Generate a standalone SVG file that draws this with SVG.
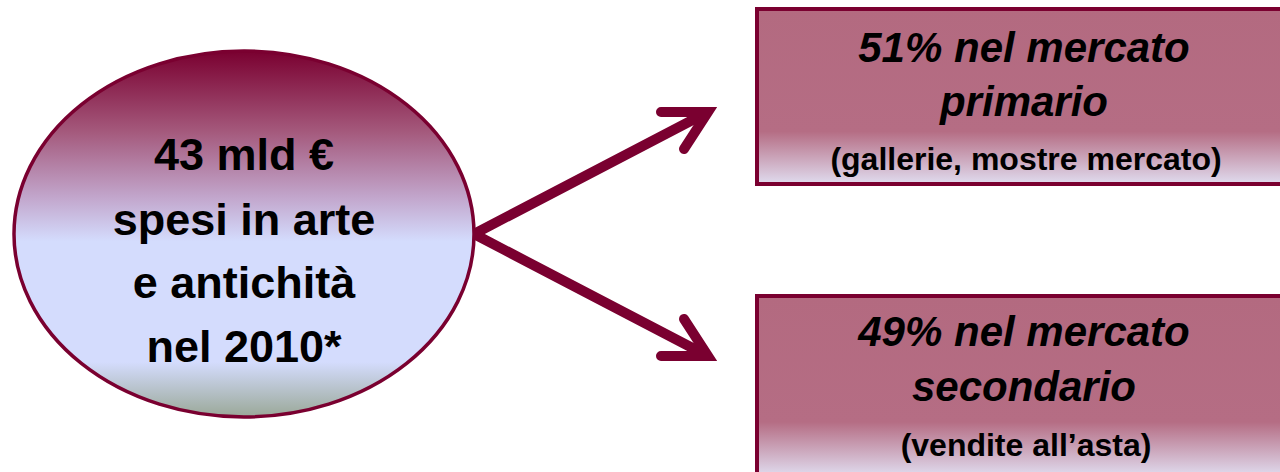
<svg xmlns="http://www.w3.org/2000/svg" width="1280" height="472" viewBox="0 0 1280 472">
<style>
.node-stroke{stroke:#7a0030;}
.el-text{font-family:"Liberation Sans",Arial,sans-serif;font-weight:bold;font-size:45px;fill:#000;text-anchor:middle;}
.box-title{font-family:"Liberation Sans",Arial,sans-serif;font-weight:bold;font-style:italic;font-size:42px;fill:#000;text-anchor:middle;}
.box-sub{font-family:"Liberation Sans",Arial,sans-serif;font-weight:bold;font-size:32px;fill:#000;text-anchor:middle;}
.conn{fill:none;stroke:#7a0030;stroke-width:10;stroke-linecap:round;stroke-linejoin:miter;}
</style>
<defs>
<linearGradient id="gEll" x1="0" y1="0" x2="0" y2="1">
<stop offset="0" stop-color="#7a0030"/>
<stop offset="0.22" stop-color="#a4597c"/>
<stop offset="0.4" stop-color="#c2a6cc"/>
<stop offset="0.52" stop-color="#d4dcfd"/>
<stop offset="0.85" stop-color="#d4dcfd"/>
<stop offset="1" stop-color="#9aa898"/>
</linearGradient>
<linearGradient id="gBox" x1="0" y1="0" x2="0" y2="1">
<stop offset="0" stop-color="#b36a80"/>
<stop offset="0.7" stop-color="#b56d84"/>
<stop offset="1" stop-color="#e0dcef"/>
</linearGradient>
</defs>
<g id="connectors">
<path class="conn" d="M474,234 L704,114"/>
<path class="conn" d="M661,112 L708,112 L684,149"/>
<path class="conn" d="M474,234 L704,354"/>
<path class="conn" d="M661,356 L708,356 L684,319"/>
</g>
<g id="node-total">
<ellipse cx="244" cy="234" rx="230" ry="183" fill="url(#gEll)" class="node-stroke" stroke-width="3.5"/>
<text class="el-text" x="244" y="170">43 mld €</text>
<text class="el-text" x="244" y="235">spesi in arte</text>
<text class="el-text" x="244" y="298">e antichità</text>
<text class="el-text" x="244" y="362">nel 2010*</text>
</g>
<g id="node-primary">
<rect x="757" y="9" width="540" height="175" fill="url(#gBox)" class="node-stroke" stroke-width="4"/>
<text class="box-title" x="1024" y="62">51% nel mercato</text>
<text class="box-title" x="1024" y="116">primario</text>
<text class="box-sub" x="1026" y="170">(gallerie, mostre mercato)</text>
</g>
<g id="node-secondary">
<rect x="757" y="296" width="540" height="180" fill="url(#gBox)" class="node-stroke" stroke-width="4"/>
<text class="box-title" x="1024" y="346">49% nel mercato</text>
<text class="box-title" x="1024" y="401">secondario</text>
<text class="box-sub" x="1026" y="456">(vendite all’asta)</text>
</g>
</svg>
